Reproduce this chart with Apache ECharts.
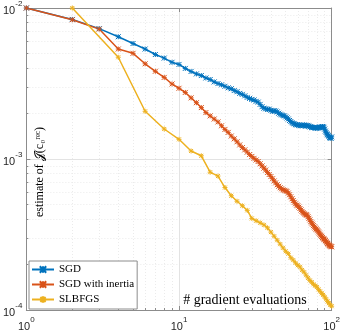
<!DOCTYPE html>
<html>
<head>
<meta charset="utf-8">
<script src="https://cdn.jsdelivr.net/npm/echarts@6/dist/echarts.min.js"></script>
<style>
  html, body { margin: 0; padding: 0; background: #fff; }
  #chart { width: 343px; height: 332px; }
</style>
</head>
<body>
<div id="chart"></div>
<script>
// gradient evaluations
var evalsSgd = [1,2,3,4,5,6,7,8,9,10,11,12,13,14,15,16,17,18,19,20,21,22,23,24,25,26,27,28,29,30,31,32,33,34,35,36,37,38,39,40,41,42,43,44,45,46,47,48,49,50,51,52,53,54,55,56,57,58,59,60,61,62,63,64,65,66,67,68,69,70,71,72,73,74,75,76,77,78,79,80,81,82,83,84,85,86,87,88,89,90,91,92,93,94,95,96,97,98,99,100];
var evalsLbfgs = [2,4,6,8,10,12,14,16,18,20,22,24,26,28,30,32,34,36,38,40,42,44,46,48,50,52,54,56,58,60,62,64,66,68,70,72,74,76,78,80,82,84,86,88,90,92,94,96,98,100];

var sgd = [1.00e-2,8.40e-3,7.30e-3,6.45e-3,5.82e-3,5.35e-3,4.92e-3,4.66e-3,4.37e-3,4.23e-3,
  3.98e-3,3.80e-3,3.66e-3,3.57e-3,3.44e-3,3.36e-3,3.24e-3,3.16e-3,3.10e-3,3.03e-3,
  2.96e-3,2.92e-3,2.84e-3,2.79e-3,2.72e-3,2.68e-3,2.62e-3,2.56e-3,2.52e-3,2.48e-3,
  2.46e-3,2.41e-3,2.38e-3,2.30e-3,2.22e-3,2.17e-3,2.15e-3,2.13e-3,2.14e-3,2.10e-3,
  2.07e-3,2.09e-3,2.08e-3,2.05e-3,2.01e-3,1.98e-3,1.96e-3,1.94e-3,1.93e-3,1.90e-3,
  1.87e-3,1.84e-3,1.80e-3,1.77e-3,1.74e-3,1.72e-3,1.71e-3,1.69e-3,1.68e-3,1.69e-3,
  1.67e-3,1.66e-3,1.67e-3,1.68e-3,1.66e-3,1.68e-3,1.67e-3,1.65e-3,1.66e-3,1.67e-3,
  1.65e-3,1.63e-3,1.64e-3,1.62e-3,1.61e-3,1.62e-3,1.62e-3,1.61e-3,1.60e-3,1.61e-3,
  1.60e-3,1.61e-3,1.62e-3,1.63e-3,1.62e-3,1.63e-3,1.64e-3,1.63e-3,1.62e-3,1.58e-3,
  1.53e-3,1.50e-3,1.47e-3,1.45e-3,1.43e-3,1.41e-3,1.39e-3,1.38e-3,1.37e-3,1.40e-3];

var sgdInertia = [1.00e-2,8.36e-3,7.25e-3,5.35e-3,5.01e-3,4.27e-3,3.81e-3,3.47e-3,3.14e-3,2.94e-3,
  2.76e-3,2.54e-3,2.36e-3,2.19e-3,2.03e-3,1.93e-3,1.84e-3,1.76e-3,1.66e-3,1.57e-3,
  1.50e-3,1.42e-3,1.36e-3,1.30e-3,1.24e-3,1.19e-3,1.15e-3,1.11e-3,1.07e-3,1.04e-3,
  1.01e-3,9.85e-4,9.63e-4,9.30e-4,9.00e-4,8.70e-4,8.45e-4,8.15e-4,7.90e-4,7.65e-4,
  7.40e-4,7.15e-4,6.95e-4,6.75e-4,6.60e-4,6.45e-4,6.35e-4,6.25e-4,6.20e-4,6.15e-4,
  6.10e-4,5.95e-4,5.80e-4,5.62e-4,5.45e-4,5.30e-4,5.17e-4,5.05e-4,4.95e-4,4.90e-4,
  4.80e-4,4.70e-4,4.60e-4,4.50e-4,4.42e-4,4.36e-4,4.30e-4,4.27e-4,4.24e-4,4.15e-4,
  4.05e-4,3.95e-4,3.85e-4,3.77e-4,3.70e-4,3.62e-4,3.55e-4,3.49e-4,3.44e-4,3.40e-4,
  3.35e-4,3.29e-4,3.23e-4,3.17e-4,3.12e-4,3.07e-4,3.02e-4,2.98e-4,2.95e-4,2.92e-4,
  2.88e-4,2.84e-4,2.80e-4,2.76e-4,2.73e-4,2.70e-4,2.67e-4,2.65e-4,2.63e-4,2.62e-4];

var slbfgs = [1.00e-2,4.72e-3,2.07e-3,1.58e-3,1.35e-3,1.13e-3,1.05e-3,8.18e-4,7.71e-4,6.47e-4,
  5.71e-4,5.25e-4,4.90e-4,4.57e-4,4.04e-4,3.90e-4,3.78e-4,3.66e-4,3.50e-4,3.28e-4,
  3.08e-4,2.90e-4,2.73e-4,2.58e-4,2.45e-4,2.36e-4,2.22e-4,2.14e-4,2.05e-4,1.98e-4,
  1.93e-4,1.84e-4,1.78e-4,1.70e-4,1.63e-4,1.57e-4,1.53e-4,1.48e-4,1.45e-4,1.42e-4,
  1.37e-4,1.33e-4,1.29e-4,1.26e-4,1.22e-4,1.18e-4,1.14e-4,1.11e-4,1.08e-4,1.06e-4];

var seriesNames = ["SGD", "SGD with inertia", "SLBFGS"];
var colors = ["#0072BD", "#D95319", "#EDB120"];

function pairs(xs, ys) {
  return xs.map(function (x, i) { return [x, ys[i]]; });
}

var crossPath = "path://M0,0L10,10M10,0L0,10M5,0L5,10M0,5L10,5";
var plusPath = "path://M5,0L5,10M0,5L10,5M1,1L9,9M9,1L1,9";
var serif = "'Liberation Serif', 'DejaVu Serif', serif";

var myChart = echarts.init(document.getElementById("chart"));

function powLabel(v) {
  var e = Math.round(Math.log10(v));
  return "{b|10}{s|" + (e < 0 ? "-" + (-e) : e) + "}";
}

var tickRich = {
  b: { fontSize: 11, fontFamily: "Liberation Sans", color: "#262626", lineHeight: 16, verticalAlign: "bottom" },
  s: { fontSize: 8, fontFamily: "Liberation Sans", color: "#262626", lineHeight: 16, verticalAlign: "top" }
};

function mkSeries(name, data, color, symbol) {
  return {
    name: name,
    type: "line",
    data: data,
    symbol: symbol,
    symbolSize: 5,
    legendIcon: "rect",
    showSymbol: true,
    lineStyle: { color: color, width: 1.5 },
    itemStyle: { color: color, borderColor: color, borderWidth: 1 },
    animation: false,
    z: 3
  };
}

myChart.setOption({
  animation: false,
  grid: { left: 23, right: 8, top: 3, bottom: 22 },
  legend: {
    data: seriesNames,
    orient: "vertical",
    left: 29,
    top: 261,
    itemWidth: 22,
    itemHeight: 8,
    itemGap: 2,
    padding: [2, 3, 3, 2],
    backgroundColor: "#fff",
    borderColor: "#8c8c8c",
    borderWidth: 1,
    textStyle: { fontFamily: serif, fontSize: 11, lineHeight: 13, color: "#000" }
  },
  xAxis: [{
    type: "log",
    min: 1,
    max: 100,
    logBase: 10,
    axisLine: { show: true, lineStyle: { color: "#8c8c8c" } },
    axisTick: { show: true, inside: true, length: 4, lineStyle: { color: "#8c8c8c" } },
    minorTick: { show: true, splitNumber: 9, length: 2, lineStyle: { color: "#8c8c8c" } },
    splitLine: { show: true, lineStyle: { color: "#e3e3e3" } },
    minorSplitLine: { show: true, lineStyle: { color: "#ebebeb", type: [1, 2] } },
    axisLabel: { margin: 6, formatter: powLabel, rich: tickRich }
  }, {
    type: "log",
    position: "top",
    min: 1,
    max: 100,
    axisLine: { show: true, lineStyle: { color: "#8c8c8c" } },
    axisTick: { show: true, inside: true, length: 4, lineStyle: { color: "#8c8c8c" } },
    axisLabel: { show: false },
    splitLine: { show: false }
  }],
  yAxis: [{
    type: "log",
    min: 1e-4,
    max: 1e-2,
    axisLine: { show: true, lineStyle: { color: "#8c8c8c" } },
    axisTick: { show: true, inside: true, length: 4, lineStyle: { color: "#8c8c8c" } },
    minorTick: { show: true, splitNumber: 9, length: 2, lineStyle: { color: "#8c8c8c" } },
    splitLine: { show: true, lineStyle: { color: "#e3e3e3" } },
    minorSplitLine: { show: true, lineStyle: { color: "#ebebeb", type: [1, 2] } },
    axisLabel: { margin: 4, formatter: powLabel, rich: tickRich }
  }, {
    type: "log",
    position: "right",
    min: 1e-4,
    max: 1e-2,
    axisLine: { show: true, lineStyle: { color: "#8c8c8c" } },
    axisTick: { show: true, inside: true, length: 4, lineStyle: { color: "#8c8c8c" } },
    axisLabel: { show: false },
    splitLine: { show: false }
  }],
  graphic: [{
    type: "text",
    x: 40,
    y: 172,
    rotation: Math.PI / 2,
    style: {
      text: "estimate of \uD835\uDCA5(c\u2080\u02B3\u1D49\u1D9C)",
      fontFamily: serif,
      fontSize: 12,
      fill: "#000",
      align: "center",
      verticalAlign: "middle"
    },
    z: 5
  }, {
    type: "text",
    x: 245,
    y: 300,
    style: {
      text: "# gradient evaluations",
      fontFamily: serif,
      fontSize: 14,
      fill: "#000",
      align: "center",
      verticalAlign: "middle"
    },
    z: 5
  }],
  series: [
    mkSeries(seriesNames[0], pairs(evalsSgd, sgd), colors[0], crossPath),
    mkSeries(seriesNames[1], pairs(evalsSgd, sgdInertia), colors[1], crossPath),
    mkSeries(seriesNames[2], pairs(evalsLbfgs, slbfgs), colors[2], plusPath)
  ]
});
</script>
</body>
</html>
